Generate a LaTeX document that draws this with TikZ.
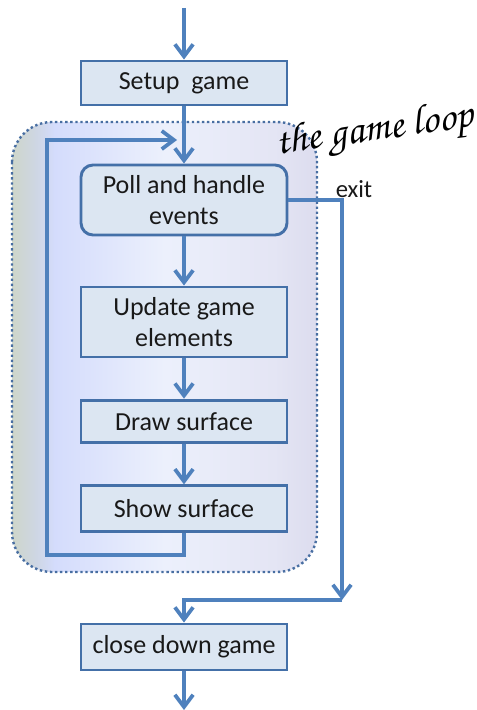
\documentclass[tikz,border=0pt]{standalone}
\usepackage{fontspec}
\setmainfont{Carlito}
\usetikzlibrary{positioning, arrows.meta, calc, shapes.geometric}
\definecolor{FlowBlue}{RGB}{79,129,189}
\definecolor{BoxBorder}{RGB}{68,112,168}
\definecolor{BoxFill}{RGB}{220,230,242}
\definecolor{LoopDot}{RGB}{72,110,162}
\definecolor{TextGray}{RGB}{25,25,25}
\definecolor{ShGreen}{RGB}{206,214,202}
\definecolor{ShGray}{RGB}{206,214,228}
\definecolor{ShBlue}{RGB}{212,220,252}
\definecolor{ShWhite}{RGB}{236,240,252}
\definecolor{ShLav}{RGB}{228,229,244}
\definecolor{ShLavDark}{RGB}{220,220,238}
\pgfdeclarehorizontalshading{loopshade}{100bp}{color(0bp)=(ShGreen); color(25bp)=(ShGreen); color(29bp)=(ShGray); color(32bp)=(ShBlue); color(50bp)=(ShWhite); color(68bp)=(ShLav); color(75bp)=(ShLavDark); color(100bp)=(ShLavDark)}

\begin{document}
\begin{tikzpicture}[x=0.75pt, y=-0.75pt,
    font=\fontsize{19.5}{23}\selectfont, text=TextGray,
    stepbox/.style={draw=BoxBorder, fill=BoxFill, line width=2.2pt, minimum width=154.5pt, align=center, inner sep=0pt},
    flow/.style={draw=FlowBlue, line width=2.8pt, -{Straight Barb[length=3.2mm, width=4.8mm]}}]
  \useasboundingbox (0,0) rectangle (477,710);
  % the game loop area
  \path[shading=loopshade, draw=LoopDot, dotted, line width=1.8pt, rounded corners=30pt] (12,122) rectangle (317,572);
  \node[rotate=8, font=\fontsize{31}{31}\usefont{OT1}{pzc}{m}{it}, text=black] (looplabel) at (375,132) {the game loop};

  \node[stepbox, minimum height=33pt] (setup) at (184,83) {Setup\ \ game};
  \node[stepbox, minimum height=52.5pt, rounded corners=9pt] (poll) at (184,200) {Poll and handle\\events};
  \node[stepbox, minimum height=52.5pt] (update) at (184,322) {Update game\\elements};
  \node[stepbox, minimum height=32pt] (drawsurf) at (184,421.5) {Draw surface};
  \node[stepbox, minimum height=34pt] (showsurf) at (184,508.5) {Show surface};
  \node[stepbox, minimum height=34.5pt] (close) at (184,647) {close down game};
  \node[font=\fontsize{18.5}{20}\selectfont] (exitlabel) at (354,189) {exit};

  \coordinate (start) at (184,8);
  \coordinate (finish) at (184,710);
  \coordinate (loopbl) at (47,555);
  \coordinate (looptl) at (47,140);
  \coordinate (loopin) at (177,140);
  \coordinate (exitbr) at (342,600);

  \draw[flow] (start) -- (setup);
  \draw[flow] (setup) -- (poll);
  \draw[flow] (poll) -- (update);
  \draw[flow] (update) -- (drawsurf);
  \draw[flow] (drawsurf) -- (showsurf);
  \draw[flow] (showsurf.south) |- (loopbl) -- (looptl) -- (loopin);
  \draw[flow] (poll.east) -| (exitbr);
  \draw[flow] (exitbr) -| (close.north);
  \draw[flow] (close) -- (finish);
\end{tikzpicture}
\end{document}
